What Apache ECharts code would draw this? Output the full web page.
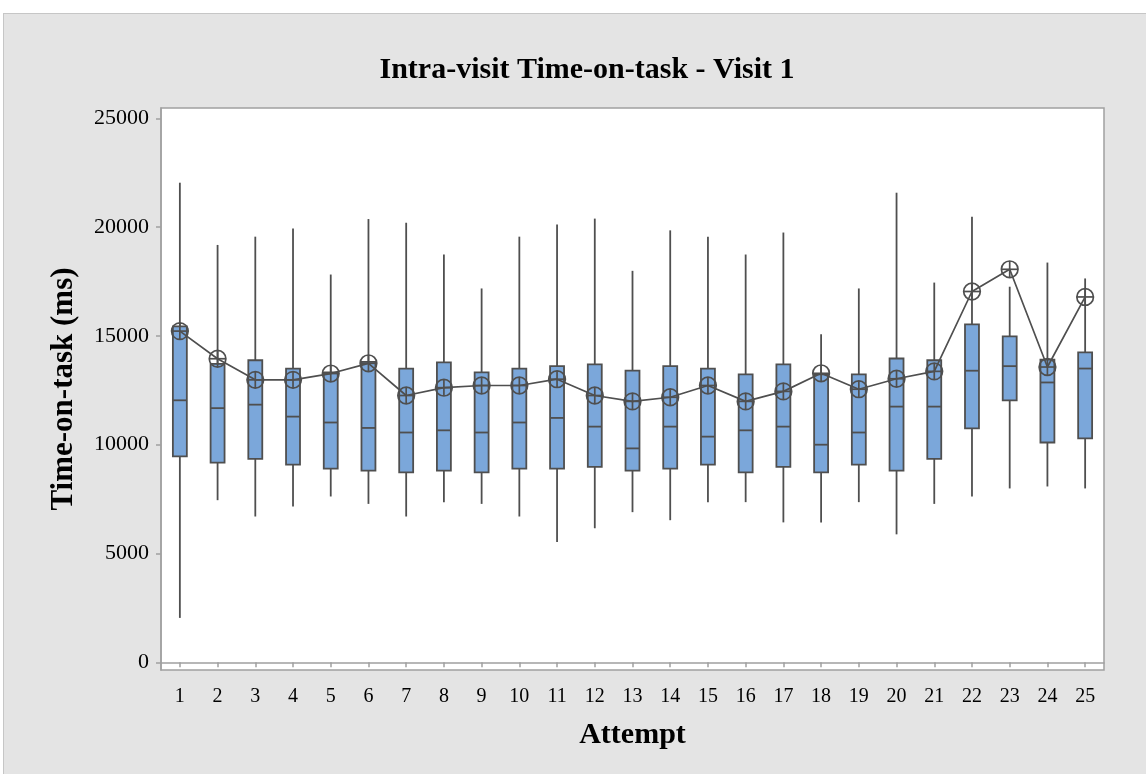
<!DOCTYPE html>
<html>
<head>
<meta charset="utf-8">
<script src="https://cdn.jsdelivr.net/npm/echarts@6/dist/echarts.min.js"></script>
<style>
  html, body { margin: 0; padding: 0; background: #ffffff; }
  #frame { position: absolute; left: 3px; top: 13px; width: 1200px; height: 800px;
           background: #e4e4e4; border: 1.5px solid #c6c6c6; box-sizing: border-box; }
  #chart { position: absolute; left: 0; top: 0; width: 1146px; height: 774px; }
</style>
</head>
<body>
<div id="frame"></div>
<div id="chart"></div>
<script>
const categories = ['1','2','3','4','5','6','7','8','9','10','11','12','13','14','15','16','17','18','19','20','21','22','23','24','25'];
const whiskerLow = [2040, 7450, 6700, 7160, 7620, 7280, 6700, 7360, 7280, 6700, 5530, 6160, 6900, 6530, 7360, 7360, 6430, 6430, 7360, 5880, 7280, 7620, 7990, 8080, 7990];
const q1 =         [9460, 9180, 9350, 9080, 8900, 8810, 8730, 8810, 8730, 8900, 8900, 8980, 8810, 8900, 9080, 8730, 8980, 8730, 9080, 8810, 9350, 10750, 12040, 10100, 10290];
const medians =    [12040, 11680, 11840, 11290, 11020, 10770, 10560, 10660, 10560, 11020, 11230, 10830, 9830, 10830, 10370, 10660, 10830, 10000, 10560, 11750, 11750, 13400, 13610, 12860, 13500];
const q3 =         [15440, 13710, 13880, 13500, 13320, 13810, 13500, 13780, 13320, 13500, 13610, 13690, 13400, 13610, 13500, 13230, 13690, 13230, 13230, 13960, 13880, 15530, 14980, 13910, 14240];
const whiskerHigh = [22040, 19180, 19560, 19930, 17820, 20370, 20200, 18740, 17180, 19560, 20120, 20390, 17990, 19850, 19560, 18740, 19750, 15070, 17180, 21580, 17450, 20480, 17260, 18370, 17640];
const means =      [15220, 13950, 12980, 12980, 13270, 13740, 12260, 12620, 12720, 12720, 13010, 12260, 11990, 12180, 12720, 11990, 12450, 13280, 12550, 13030, 13370, 17040, 18060, 13570, 16790];
const yTicks = [0, 5000, 10000, 15000, 20000, 25000];

const boxData = categories.map((c, i) => [i, whiskerLow[i], q1[i], medians[i], q3[i], whiskerHigh[i]]);
const meanData = categories.map((c, i) => [i, means[i]]);

const serif = "'Liberation Serif', 'DejaVu Serif', 'Times New Roman', serif";
const stroke = '#4f4f4f';
const axisGray = '#a0a0a0';

const chart = echarts.init(document.getElementById('chart'), null, { renderer: 'canvas' });

chart.setOption({
  backgroundColor: 'transparent',
  animation: false,
  title: {
    text: 'Intra-visit Time-on-task - Visit 1',
    left: 582, textAlign: 'center', top: 50,
    textStyle: { fontFamily: serif, fontSize: 30, fontWeight: 'bold', color: '#000' }
  },
  grid: {
    left: 161, right: 42, top: 108, bottom: 104,
    show: true, backgroundColor: '#ffffff', borderColor: axisGray, borderWidth: 1.5
  },
  xAxis: {
    type: 'category',
    data: categories,
    name: 'Attempt',
    nameLocation: 'middle',
    nameGap: 50,
    nameTextStyle: { fontFamily: serif, fontSize: 30, fontWeight: 'bold', color: '#000' },
    axisLine: { show: true, lineStyle: { color: axisGray, width: 1.5 } },
    axisTick: { show: true, alignWithLabel: true, length: 5, lineStyle: { color: axisGray, width: 1.5 } },
    axisLabel: { fontFamily: serif, fontSize: 20, color: '#000', margin: 17 },
    splitLine: { show: false }
  },
  yAxis: {
    type: 'value',
    min: -354,
    max: 25473,
    name: 'Time-on-task (ms)',
    nameLocation: 'middle',
    nameGap: 82,
    nameRotate: 90,
    nameTextStyle: { fontFamily: serif, fontSize: 31, fontWeight: 'bold', color: '#000' },
    axisLine: { show: true, lineStyle: { color: axisGray, width: 1.5 } },
    axisTick: { show: true, length: 5, customValues: yTicks, lineStyle: { color: axisGray, width: 1.5 } },
    axisLabel: { fontFamily: serif, fontSize: 22, color: '#000', margin: 12, customValues: yTicks,
                 formatter: function (v) { return String(v); } },
    splitLine: { show: false }
  },
  series: [
    {
      type: 'custom',
      name: 'box',
      data: boxData,
      z: 2,
      renderItem: function (params, api) {
        const idx = api.value(0);
        const pLow = api.coord([idx, api.value(1)]);
        const pQ1 = api.coord([idx, api.value(2)]);
        const pMed = api.coord([idx, api.value(3)]);
        const pQ3 = api.coord([idx, api.value(4)]);
        const pHigh = api.coord([idx, api.value(5)]);
        const band = api.size([1, 0])[0];
        const w = band * 0.37;
        const x = pQ1[0];
        const lineStyle = { stroke: stroke, lineWidth: 1.8 };
        return {
          type: 'group',
          children: [
            { type: 'line', shape: { x1: x, y1: pHigh[1], x2: x, y2: pQ3[1] }, style: lineStyle },
            { type: 'line', shape: { x1: x, y1: pQ1[1], x2: x, y2: pLow[1] }, style: lineStyle },
            { type: 'rect', shape: { x: x - w / 2, y: pQ3[1], width: w, height: pQ1[1] - pQ3[1] },
              style: { fill: '#7ba7da', stroke: stroke, lineWidth: 1.8 } },
            { type: 'line', shape: { x1: x - w / 2, y1: pMed[1], x2: x + w / 2, y2: pMed[1] }, style: lineStyle }
          ]
        };
      }
    },
    {
      type: 'line',
      name: 'mean line',
      data: meanData,
      symbol: 'none',
      z: 3,
      lineStyle: { color: stroke, width: 1.7 }
    },
    {
      type: 'custom',
      name: 'mean',
      data: meanData,
      z: 4,
      renderItem: function (params, api) {
        const p = api.coord([api.value(0), api.value(1)]);
        const r = 8.3;
        const s = { stroke: stroke, lineWidth: 1.7, fill: 'none' };
        return {
          type: 'group',
          children: [
            { type: 'circle', shape: { cx: p[0], cy: p[1], r: r }, style: { stroke: stroke, lineWidth: 1.7, fill: 'rgba(0,0,0,0)' } },
            { type: 'line', shape: { x1: p[0] - r, y1: p[1], x2: p[0] + r, y2: p[1] }, style: s },
            { type: 'line', shape: { x1: p[0], y1: p[1] - r, x2: p[0], y2: p[1] + r }, style: s }
          ]
        };
      }
    }
  ]
});
</script>
</body>
</html>
